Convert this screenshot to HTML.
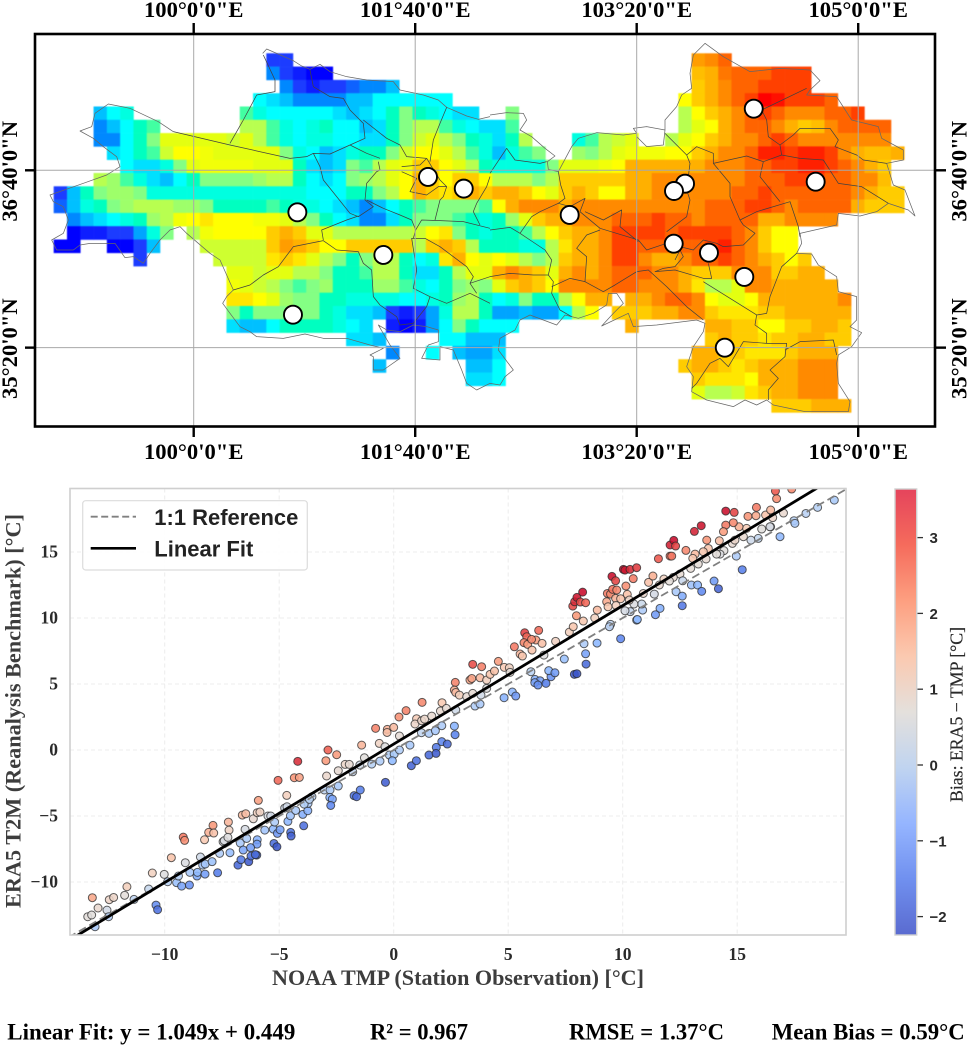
<!DOCTYPE html>
<html lang="en">
<head>
<meta charset="utf-8">
<title>ERA5 T2M vs NOAA TMP: spatial map and station validation</title>
<style>
html,body{margin:0;padding:0;background:#fff;}
svg{display:block;}
.serif{font-family:"Liberation Serif",serif;font-weight:bold;}
.sans{font-family:"Liberation Sans",sans-serif;font-weight:bold;}
#map-cells{filter:blur(0.4px);}
</style>
</head>
<body>
<svg id="fig" xmlns="http://www.w3.org/2000/svg" width="969" height="1046" viewBox="0 0 969 1046">
  <defs>
    <clipPath id="scatter-clip"><rect x="70" y="488.5" width="776" height="446.5"/></clipPath>
    <linearGradient id="cbar-grad" x1="0" y1="1" x2="0" y2="0"></linearGradient>
  </defs>
  <rect x="0" y="0" width="969" height="1046" fill="#fff"/>

  <g id="map-cells"></g>

  <g transform="translate(30,30) scale(0.33333)" fill="none" stroke="#404040" stroke-width="2.2" stroke-linejoin="round">
    <path stroke="#666" d="M698 70L710 57L790 92L815 108L840 118L870 103L900 125L950 140L1010 150L1090 155L1110 180L1180 195L1225 210L1250 232L1310 258L1345 268L1380 260M1380 1060L1340 1080L1310 1060L1295 1020L1270 960L1230 950L1230 990L1175 985L1195 945L1225 935L1225 900L1190 890L1150 885L1110 905L1070 900L1045 885L1080 945L1110 985L1060 1020L1030 1020L1030 980L1020 975L1060 955L1020 945L950 925L880 925L825 912L760 925L680 920L660 905L630 890L600 850L578 820L590 800L610 780L570 690L540 670L470 610L450 590L420 600L390 630L360 670L340 700L310 680L285 683L255 640L220 640L180 640L150 645L130 660L80 660L65 630L100 610L115 570L100 530L70 515L60 495L160 460L230 435L270 410L260 380L220 350L190 325L150 303L185 290L195 250L235 222L300 235L385 275L430 305"/>
    <path d="M430 305L600 345L780 385L830 380L850 370L900 372L960 345L1010 370L1050 385M600 340L640 270L680 195L735 185L735 150L700 75M850 370L870 410L880 450L920 500L960 550L985 560L1030 530L1005 510L1010 460L1040 425L1050 420L1045 395M840 120L850 170L900 200L940 205L960 240L1000 280L1005 325L960 345M1000 270L1070 325L1110 345L1130 380L1190 385M1250 232L1230 280L1210 330L1200 395M1010 510L1060 535L1110 555L1145 570L1157 600M880 630L875 600L950 570L985 558M610 780L660 765L700 735L745 710L790 650L880 632L920 660L985 665L1000 700L1025 720L1030 800L1050 825L1100 860L1110 885L1150 880L1190 830L1200 800L1150 775L1160 720L1145 625L1185 625L1230 650L1270 680L1310 710L1330 740L1320 760L1380 740M1157 600L1175 570L1230 572L1300 575L1380 595M1157 600L1150 625M1200 800L1250 820L1320 790L1380 820M1320 760L1340 790M1115 410L1170 405L1190 385L1205 410L1230 450L1250 470L1240 500L1230 510L1215 570M1115 425L1160 445L1140 485L1190 495L1225 470L1250 470M1340 520L1330 545L1350 585M1340 520L1370 470L1380 440"/>
  </g>
  <g transform="translate(490,30) scale(0.33333)" fill="none" stroke="#404040" stroke-width="2.2" stroke-linejoin="round">
    <path stroke="#666" d="M0 255L50 248L100 250L110 270L90 300L125 320L165 355L195 378L172 395L175 418L205 425L245 350L265 325L320 308L400 315L440 310L430 295L470 290L525 300L520 345L470 350L440 320M525 300L525 270L560 230L575 195L605 175L600 130L610 75L645 40L700 80L780 125L870 115L960 120L990 152L960 180L950 195L1040 200L1085 270L1165 290L1175 325L1240 360L1240 390L1190 400L1210 465L1245 480L1275 558L1255 540L1195 520L1160 545L1110 558L1045 550L1040 585L930 610L935 640L920 670L965 672L985 705L1040 740L1045 785L1100 800L1100 870L1080 890L1115 908L1085 950L1045 975L1040 1000L1045 1060L1080 1115L1075 1145L945 1145L850 1125L830 1110L800 1125L765 1110L730 1130L650 1110L605 1085L610 1040L590 1010L610 950L640 905L645 880L620 870L500 885L430 890L415 850L335 888L370 850L400 820L380 790L355 790L350 825L310 850L265 865L225 855L200 885L120 855L90 870L75 900L30 925L25 960L70 1020L45 1040L30 1065L0 1060"/>
    <path d="M0 430L50 355L75 390L150 400L170 395M0 600L60 592L90 610L120 630L165 660L185 690L175 735L190 755L185 790L210 840L245 860M0 740L60 730L130 735L175 735M185 770L240 745L285 755L340 785L375 765L440 725L475 720L530 770L590 830L640 870M285 755L290 680L260 655L290 615L330 600M90 610L125 560L150 545L205 520L240 530M205 425L212 465L225 505L205 520M240 530L285 505L270 545L330 595L445 630L470 660L530 640L610 660L640 630L680 640L700 650L760 645L795 610L760 585L750 570L800 545L900 515L925 590L930 620M445 635L390 590L395 540L340 570L285 545M530 605L590 560L600 510L590 480L600 400L590 375L620 350L670 370L670 400M590 375L525 310M670 400L720 460L720 500L750 570M670 400L770 378L820 395L875 375L870 345L910 315L930 295L1020 295L1045 330L1035 350L1100 375L1120 390L1190 400M820 395L810 440L870 515M875 375L930 385L1000 390L1045 460L1115 470L1195 520M830 270L815 240L950 175M830 270L835 320L870 345M555 690L570 660L580 680L555 710L520 715L495 725L555 720L640 745L665 745L655 700M640 755L800 855L830 850L840 800L875 710L920 670M800 855L795 885L830 910L830 940L760 935L715 1010L690 985L660 1000L620 1060L605 1075M830 940L890 940L885 980L840 1020L865 1045L835 1080L835 1110M885 960L930 935L1030 930L1040 975"/>
  </g>

  <g id="map-grid"></g>
  <g id="map-stations"></g>
  <rect x="35" y="34" width="900" height="392.5" fill="none" stroke="#000" stroke-width="2.6"/>
  <g id="map-ticks"></g>

  <g id="scatter-grid"></g>
  <g id="scatter-axes-labels"></g>
  <g clip-path="url(#scatter-clip)">
    <g id="scatter-points"></g>
    <line id="ref-line" stroke="#808080" stroke-width="1.8" stroke-dasharray="8 4"/>
    <line id="fit-line" stroke="#000" stroke-width="2.8"/>
  </g>
  <rect x="70" y="488.5" width="776" height="446.5" fill="none" stroke="#cfcfcf" stroke-width="1.6"/>

  <g>
    <rect x="82.7" y="500.7" width="224.6" height="69.3" rx="3" fill="#fff" fill-opacity="0.92" stroke="#dcdcdc" stroke-width="1.2"/>
    <line x1="90.7" y1="516.7" x2="136" y2="516.7" stroke="#808080" stroke-width="1.8" stroke-dasharray="7 3.5"/>
    <text x="154.3" y="525" class="sans" font-size="21.8" fill="#222" textLength="144" lengthAdjust="spacingAndGlyphs">1:1 Reference</text>
    <line x1="90.7" y1="548.3" x2="136" y2="548.3" stroke="#000" stroke-width="2.6"/>
    <text x="154.3" y="556.5" class="sans" font-size="21.8" fill="#222" textLength="99" lengthAdjust="spacingAndGlyphs">Linear Fit</text>
  </g>

  <text x="458" y="985" class="serif" font-size="22" fill="#3d3d3d" text-anchor="middle" textLength="372" lengthAdjust="spacingAndGlyphs">NOAA TMP (Station Observation) [°C]</text>
  <text transform="translate(20.7,711) rotate(-90)" class="serif" font-size="22" fill="#3d3d3d" text-anchor="middle" textLength="394" lengthAdjust="spacingAndGlyphs">ERA5 T2M (Reanalysis Benchmark) [°C]</text>

  <rect x="895" y="489" width="21.7" height="446" fill="url(#cbar-grad)" stroke="#cfcfcf" stroke-width="1.4"/>
  <g id="cbar-ticks"></g>
  <text transform="translate(962.7,714.5) rotate(-90)" font-family="Liberation Serif, serif" font-size="17.5" fill="#2a2a2a" stroke="#2a2a2a" stroke-width="0.2" text-anchor="middle" textLength="175" lengthAdjust="spacingAndGlyphs">Bias: ERA5 − TMP [°C]</text>

  <g>
    <text x="7.3" y="1039.3" class="serif" font-size="23" fill="#000" textLength="288" lengthAdjust="spacingAndGlyphs">Linear Fit: y = 1.049x + 0.449</text>
    <text x="370" y="1039.3" class="serif" font-size="23" fill="#000" textLength="98" lengthAdjust="spacingAndGlyphs">R² = 0.967</text>
    <text x="569" y="1039.3" class="serif" font-size="23" fill="#000" textLength="155" lengthAdjust="spacingAndGlyphs">RMSE = 1.37°C</text>
    <text x="771.7" y="1039.3" class="serif" font-size="23" fill="#000" textLength="193" lengthAdjust="spacingAndGlyphs">Mean Bias = 0.59°C</text>
  </g>
</svg>

<script>
/* ---------- map data ---------- */
const heatLevels = ["#0000ff","#1c3cff","#0088ff","#00c0ff","#00ffff","#00ffc0","#84ff84","#b8ff50","#e4ff10","#ffff00","#ffcc00","#ffb000","#ff8a00","#ff6400","#ff4000","#ff2000","#ff0000"];
const heatRows = [
"16|1 1/48|11.5 12 13",
"16|2 1 .5 0 0/48|10.5 11 12.5 13 13 13 14 14 14",
"17|2 1 .5 1 1 1.5 2 2 3/48|10 11 12 13 13 14 14 14 14",
"15|4 3.5 3 2 2 2 2 3 3 4 4 4 4 4 4/47|9 10 11 12 13 14 16 15.5 14 14 14 13",
"3|3 4 4.5/14|5.5 4.5 4 4 4 4 4 3.5 3 3.5 4 5 6 5 4.5 4 3.5 3.5/34|6/47|7 9 10 11 12 13 14 13 12 12 12 13 13 14",
"3|2 3 4 5 5.5/14|7 7 5.5 4.5 4 4.5 5 4 4 3 3.5 5 6 7 7 5.5 4.5 4 3.5 3.5 5.5/47|7 8 9 11 12 13 13 12 11 10 10.5 12 13 13 13 13",
"3|2 2 4 5 6 8 8 8 8 8 7.5 8 7 5.5 4.5 4 4.5 4.5 4 4 3.5 3.5 5 6 7.5 8 7 6 5 4.5 3.5 5 7/39|4.5 5.5 7 7.5 8/46|7 8 9 10 11 12 12 13 14 13 12 12 12 12 12 12 12",
"4|3.5 4 5 5.5 7.5 9 9 8.5 8 8 8 8 8 6 4.5 4 3 3.5 4.5 5 5 6 7.5 9 9 8 7 5.5 4.5 3 4.5 5.5 6/39|6.5 6 7 8 8.5 8.5 8.5 9 9 10 11 12 12 13 15 15 14 15 15 14 12 11 10.5 10.5 11",
"5|4 3.5 3.5 4.5 6 8 8.5 8.5 8.5 8.5 8 8 8 5 3.5 3 3.5 6 5.5 7 8 8.5 10 10 9 8 7 5 4.5 4.5 4.5 4.5 6 8 8 8 8.5 9 11 11 11 11 11 11 12 12 12 13 13 14 14 15 15 14 13 12 11 10",
"3|7 6.5 5.5 4.5 3.5 3 4 5 6 6 6 6 6.5 7 7 5 4 3.5 4 6 6.5 7 8 9 11 10 9 10 10 9 7 7 7 6 7 10 10 10 10 10 11 11 12 12 12 12 12 12 12 13 13 13 14 14 14 13 13 12 12 10.5",
"0|1 3 5 6 6.5 6.5 6 4.5 4.5 4.5 4.5 4.5 4.5 4.5 4.5 4.5 4.5 4.5 4.5 4 4 4 5 5 6 7 9 11 10 9.5 10 11 10 11 11 10 9 8 10 11 10 9 9 11 11 12 12 12 12 12 12 13 13 14 13 13 13 13 13 13 12 11 10 10",
"0|1.5 3 4.5 5 6 6.5 7 7 7 6.5 6.5 6 5 5 5 5 5.5 5 4.5 4.5 4 3.5 3 2 3 4 5 5.5 6 6 6 6 5.5 9 11 12 12 12 11 12 12 12 12 12 12 12 12 12 12 13 13 13 14 14 13 12 13 13 13 13 11 10 10 10",
"1|2 3 3.5 4 4.5 5 6.5 7 8.5 9 9.5 9 9 9 8.5 8.5 8 7 6 5 4 3.5 2 2 3.5 5 6 6 6 5.5 5 4.5 5 6.5 8 10 11 11 12 12 12 13 13 13 14 13 13 12 13 13 13 13 11 11 12 12 12 12",
"1|0 .5 .5 1 1 2.5 4.5 6/10|7 8.5 9 9 9 9 10 11 10 8 8 7 7 7 7 7 7 7.5 9 9.5 6 5 4.5 5 5 5.5 7 9 10 11 11 12 14 14 14 14 13 14 14 14 14 13 12 10 9 9",
"0|0 0/4|0 0 1 3/11|7.5 7.5 7.5 7.5 7.5 10 11.5 11 10 9 9 10 10 10 10 10 7 10 11 10 7 5 5 5 4.5 4.5 7 9.5 11 11 12 14 14 13 13 13 13 13 14 15 13 12 10 9 9",
"6|1/12|7.5 7.5 7.5 7.5 9.5 10 9.5 8 7 6 5 6 7 7 5 4 4.5 9.5 11 9 8 9 8 7 6 7 10 11 11 12 14 14 12 11 11 12 13 13 14 13 12 11 10 9 10",
"13|8 8 7.5 8 8 7 7 6 5 5 5.5 7 7 5 3.5 3.5 5 7 8 8 11 12 11 10 8 11 12 11 12 13 13 13 12 12 11 10 10 10 12 12 12 10 10 11 11",
"13|8.5 8 7.5 7 6 5.5 6 6.5 5 5 5 6.5 6.5 5.5 4.5 4 5 6 6.5 6 8 10 11 10 9 12 12 12 12 13 13 12 12 12 11 9.5 7 7 8 12 12 11 11 11 11 11",
"13|9.5 9.5 9 8 6.5 6 6 5 5 4.5 4.5 4.5 4.5 4 4 4.5 5 6.5 7 5 4 4.5 6 5 5 7 9 11 11/43|11 11 12 13 13 12 9 8 8 9 11 11 11 11 11 11 12",
"13|6 5 6 6 6 6 6 5 4.5 3.5 3.5 3 1 .5 1 2.5 4.5 7 7 5 2.5 2.5 3 2.5 2.5 4 7 9/42|10 10 10 11 11 12 12 10 9.5 9.5 9.5 10 10 11 11 11 11 11",
"13|3.5 3 3 4 5 5 5 5 4.5 4 3.5/25|.5 0 .5 2.5 4 6 5 4 4 4/43|11/49|11 11 10 10 9 9 10 10 11 11 10",
"22|3.5 3.5 3/29|4 4 3 3 3/49|10 11 10 10 9.5 10 10 11 11 10 10",
"25|2/28|4/30|3 2.5 2.5 3.5/48|11 11 10 10 9.5 9.5 9.5 10 11 11 11",
"24|3/31|3 3 4/47|10 11 11 10 9.5 10 11 11 11 12 12 12",
"31|3.5 3.5 4/48|10 9.5 9.5 9.5 9 11 11 11 12 12 12",
"48|8 7 7 7.5 9.5 10 11 11 12 12 12",
"54|10 10 10 11 11 11"
];
const gridLonStart = 98.9465;
const gridLatStart = 37.5465;
const gridStep = 0.1;
const stationLon = [100.78,100.747,101.427,101.763,102.032,102.829,103.697,103.614,103.612,103.877,104.143,103.996,104.214,104.68];
const stationLat = [36.351,35.581,36.030,36.617,36.529,36.331,36.566,36.511,36.115,36.047,35.865,35.333,37.130,36.581];
const lonTicks = [100,101.6667,103.3333,105];
const lonTickLabels = ["100°0'0\"E","101°40'0\"E","103°20'0\"E","105°0'0\"E"];
const latTicks = [36.6667,35.3333];
const latTickLabels = ["36°40'0\"N","35°20'0\"N"];

/* ---------- scatter data ---------- */
const noaaTmp = [-13.04,-13.16,-13.36,-13.19,-12.91,-12.52,-12.45,-12.42,-12.23,-11.75,-11.65,-11.34,-10.70,-10.38,-10.31,-10.54,-10.02,-9.87,-9.71,-9.48,-9.40,-9.26,-8.92,-9.10,-8.90,-8.59,-8.57,-8.24,-8.34,-8.44,-8.23,-7.93,-7.69,-7.60,-7.15,-8.26,-9.19,-9.13,-8.08,-7.89,-7.86,-7.22,-7.19,-7.45,-7.40,-7.24,-6.70,-6.42,-6.49,-6.57,-5.96,-5.97,-6.25,-6.80,-6.67,-6.33,-6.23,-5.98,-6.04,-5.63,-5.26,-5.20,-5.08,-4.96,-5.23,-5.10,-4.50,-4.48,-4.62,-4.51,-4.28,-3.97,-3.93,-3.75,-3.74,-3.91,-3.57,-3.68,-5.49,-5.37,-6.13,-6.61,-6.46,-5.96,-5.84,-5.91,-5.05,-4.67,-4.34,-4.12,-4.19,-4.76,-4.66,-2.93,-2.96,-2.87,-2.49,-3.03,-2.78,-2.42,-2.79,-2.68,-2.75,-1.73,-1.62,-1.46,-2.42,-2.12,-1.94,-1.79,-1.48,-1.28,-1.40,-0.96,-0.63,-0.79,-0.28,-0.29,0.00,-0.60,-0.38,-0.19,0.02,0.25,-0.06,-0.36,0.25,0.23,0.54,0.71,0.77,0.99,1.24,1.00,0.93,1.22,1.35,1.21,1.54,1.54,1.66,1.82,1.86,1.85,2.10,2.11,2.10,2.04,2.34,2.30,2.65,2.68,2.69,2.65,2.71,2.71,
2.87,3.45,3.84,3.19,3.45,3.33,3.41,3.77,4.06,4.21,4.40,4.57,4.83,5.05,5.08,4.06,3.81,3.55,3.77,4.82,5.18,5.33,5.27,5.52,5.62,5.72,5.81,5.69,5.85,6.04,6.21,6.02,6.33,6.48,7.07,6.56,5.99,6.17,6.39,6.16,6.30,6.65,6.87,6.77,7.04,7.45,7.89,8.00,8.40,8.38,8.31,8.88,7.67,7.84,7.98,8.28,8.78,8.89,7.82,7.90,8.00,8.15,8.25,8.38,9.30,9.36,9.33,9.47,9.56,9.74,9.69,9.91,10.14,10.20,9.71,9.53,9.69,10.46,10.03,10.10,10.32,10.61,11.13,11.32,11.56,12.07,12.23,12.31,12.07,12.14,12.76,13.13,13.43,14.50,14.87,15.47,15.84,15.82,16.24,16.46,16.72,16.67,17.38,17.02,16.55,16.46,16.07,15.92,15.60,15.27,15.41,15.08,14.83,14.50,14.40,14.22,13.67,13.74,13.52,13.16,13.06,13.64,13.30,12.97,12.50,12.21,11.80,11.60,12.04,12.62,13.00,13.27,13.45,13.99,14.18,15.22,14.96,14.42,14.25,14.10,14.79,14.90,16.87,16.43,17.48,17.52,18.00,18.51,19.24,12.33,12.60,12.60,11.63,11.43,10.61,10.64,10.87,10.83,10.49,10.33,10.10,9.47,9.42,9.91,11.38,10.90,10.29];
const era5T2m = [-13.39,-11.19,-12.63,-12.50,-11.97,-12.13,-12.63,-11.34,-11.17,-11.01,-10.36,-11.32,-10.53,-11.75,-12.10,-9.32,-9.42,-9.98,-8.16,-10.05,-9.55,-10.31,-10.23,-8.54,-9.27,-9.55,-9.27,-9.40,-8.72,-8.11,-8.64,-8.46,-9.30,-7.83,-7.78,-6.80,-6.60,-6.85,-6.24,-5.71,-6.29,-5.46,-6.07,-6.95,-6.87,-6.62,-7.05,-6.70,-6.01,-7.58,-6.80,-7.13,-7.40,-8.72,-8.31,-8.46,-8.03,-7.96,-7.93,-6.07,-5.99,-5.46,-6.32,-6.04,-7.08,-7.33,-6.24,-6.52,-5.41,-4.98,-4.58,-4.88,-5.74,-4.60,-4.05,-4.10,-3.54,-3.74,-5.00,-5.00,-5.21,-4.93,-4.83,-4.75,-4.70,-3.82,-2.30,-3.44,-2.10,-2.08,-0.86,-4.40,-4.30,-1.97,-0.81,0.00,-0.36,-3.03,-3.03,-2.73,-3.59,-3.72,-4.20,-3.46,-3.54,-3.03,-1.57,-1.09,-1.09,-1.65,-1.14,-0.59,0.37,-1.07,0.50,1.64,1.56,1.33,1.71,-0.84,0.25,-0.38,-0.31,0.00,-0.81,-2.45,1.06,2.50,2.98,0.37,-1.19,-0.81,3.61,2.37,1.97,2.22,2.34,1.31,-0.38,1.26,2.57,1.46,0.20,-0.26,0.63,3.58,1.84,2.95,0.45,3.15,1.81,1.16,5.12,4.54,4.36,3.03,
4.16,6.49,6.31,4.04,4.29,5.30,5.42,5.47,5.30,5.73,5.98,6.71,6.26,6.23,5.88,4.67,4.16,3.33,3.48,3.96,4.39,4.09,7.82,7.27,7.12,8.88,8.58,8.13,8.00,7.57,8.33,8.38,9.06,8.08,8.23,7.19,5.93,5.35,5.25,5.10,4.92,5.05,5.55,6.01,5.85,6.89,5.73,5.78,6.51,7.29,8.05,8.10,8.93,9.34,10.17,9.77,10.00,10.60,10.90,11.23,11.56,11.21,11.96,11.16,11.23,10.85,11.86,11.81,12.17,12.12,11.49,11.46,12.42,11.79,10.95,13.15,12.82,12.98,13.68,13.63,13.68,13.81,12.70,13.18,14.49,15.53,15.88,15.45,14.69,14.69,15.12,16.56,16.99,18.10,18.00,17.70,18.38,17.75,17.80,18.18,19.04,19.62,19.77,17.95,17.60,16.91,16.74,16.03,15.90,16.16,16.79,16.91,17.22,17.04,16.54,15.85,15.90,15.27,15.02,14.84,14.52,14.47,14.09,13.76,13.33,13.08,12.95,12.50,12.80,12.82,12.50,12.50,12.02,12.80,12.22,13.66,14.69,15.10,14.84,14.84,15.65,15.90,16.16,16.91,17.37,17.17,17.92,18.38,18.93,11.99,11.66,10.93,10.73,10.25,9.84,9.89,10.60,11.06,11.06,10.48,10.55,9.52,9.34,8.43,11.81,11.86,11.36];
const xTicks = [-10,-5,0,5,10,15];
const yTicks = [-10,-5,0,5,10,15];
const xTickLabels = ["−10","−5","0","5","10","15"];
const yTickLabels = ["−10","−5","0","5","10","15"];
const fitSlope = [1.049];
const fitIntercept = [0.449];
const cbarTicks = [-2,-1,0,1,2,3];
const cbarTickLabels = ["−2","−1","0","1","2","3"];
const biasRange = [-2.24,3.65];
const coolwarmStops = ["#5a6bd0","#7090ef","#95b5ff","#c0d4f0","#e4e0dc","#fbc9b0","#fd9f80","#f56b5c","#e5445c"];
const dotStops = ["#3b55c8","#5c85ee","#8db8ff","#bcd4f4","#e2dedb","#f8cbb4","#f8997a","#ee5a4e","#c70a2a"];

/* ---------- helpers ---------- */
const NS = "http://www.w3.org/2000/svg";
const lonX = lon => 193.7 + 132.9 * (lon - 100);
const latY = lat => 170.3 - 133 * (lat - 36.6667);
const sx = v => 393.7 + 22.9 * v;
const sy = v => 750 - 13.2 * v;
const by = v => 765 - 75.8 * v;
function hex(c){return [parseInt(c.slice(1,3),16),parseInt(c.slice(3,5),16),parseInt(c.slice(5,7),16)];}
function ramp(list,t){
  t=Math.max(0,Math.min(1,t))*(list.length-1);
  const i=Math.min(Math.floor(t),list.length-2),f=t-i,a=hex(list[i]),b=hex(list[i+1]);
  return "rgb("+a.map((v,k)=>Math.round(v+(b[k]-v)*f)).join(",")+")";
}
function make(tag,attrs,parent){
  const el=document.createElementNS(NS,tag);
  for(const k in attrs) el.setAttribute(k,attrs[k]);
  parent.appendChild(el);
  return el;
}

/* ---------- heatmap ---------- */
const cellsG=document.getElementById("map-cells");
heatRows.forEach((row,r)=>{
  row.split("/").forEach(seg=>{
    const parts=seg.split("|"),start=+parts[0];
    parts[1].split(" ").forEach((tok,i)=>{
      const col=start+i,lon=gridLonStart+col*gridStep,lat=gridLatStart-r*gridStep;
      const el=make("rect",{x:lonX(lon).toFixed(2),y:latY(lat).toFixed(2),width:13.6,height:13.6,fill:ramp(heatLevels,(+tok)/16)},cellsG);
      
      
    });
  });
});

/* ---------- graticule, ticks, labels ---------- */
const gridG=document.getElementById("map-grid"),tickG=document.getElementById("map-ticks");
lonTicks.forEach((lon,i)=>{
  const x=lonX(lon);
  const g=make("line",{x1:x,x2:x,y1:34,y2:426.5,stroke:"#a8a8a8","stroke-width":1},gridG);
  
  
  const t1=make("line",{x1:x,x2:x,y1:23,y2:34,stroke:"#000","stroke-width":2.4},tickG);
  
  
  const t2=make("line",{x1:x,x2:x,y1:426.5,y2:437,stroke:"#000","stroke-width":2.4},tickG);
  
  
  [17,459].forEach(y=>{
    const l=make("text",{x:x,y:y,"text-anchor":"middle","font-size":22.6,class:"serif",fill:"#000"},tickG);
    l.textContent=lonTickLabels[i];
    
    
  });
});
latTicks.forEach((lat,i)=>{
  const y=latY(lat);
  const g=make("line",{x1:35,x2:935,y1:y,y2:y,stroke:"#a8a8a8","stroke-width":1},gridG);
  
  
  const t1=make("line",{x1:25,x2:35,y1:y,y2:y,stroke:"#000","stroke-width":2.4},tickG);
  
  
  const t2=make("line",{x1:935,x2:946,y1:y,y2:y,stroke:"#000","stroke-width":2.4},tickG);
  
  
  [17,966.7].forEach(x=>{
    const l=make("text",{transform:"translate("+x+","+(y+1)+") rotate(-90)","text-anchor":"middle","font-size":22.6,class:"serif",fill:"#000"},tickG);
    l.textContent=latTickLabels[i];
    
    
  });
});

/* ---------- stations ---------- */
const stG=document.getElementById("map-stations");
stationLon.forEach((lon,i)=>{
  const c=make("circle",{cx:lonX(lon),cy:latY(stationLat[i]),r:9,fill:"#fff",stroke:"#000","stroke-width":1.9},stG);
  
  
});

/* ---------- scatter ---------- */
const sgG=document.getElementById("scatter-grid"),slG=document.getElementById("scatter-axes-labels");
xTicks.forEach((v,i)=>{
  const g=make("line",{x1:sx(v),x2:sx(v),y1:488.5,y2:935,stroke:"#ececec","stroke-width":1,"stroke-dasharray":"4 3"},sgG);
  
  
  const l=make("text",{x:sx(v),y:960,"text-anchor":"middle","font-size":17.5,class:"serif",fill:"#2a2a2a"},slG);
  l.textContent=xTickLabels[i];
  
  
});
yTicks.forEach((v,i)=>{
  const g=make("line",{x1:70,x2:846,y1:sy(v),y2:sy(v),stroke:"#ececec","stroke-width":1,"stroke-dasharray":"4 3"},sgG);
  
  
  const l=make("text",{x:58,y:sy(v)+5.5,"text-anchor":"end","font-size":17.5,class:"serif",fill:"#2a2a2a"},slG);
  l.textContent=yTickLabels[i];
  
  
});
const ptG=document.getElementById("scatter-points");
noaaTmp.forEach((x,i)=>{
  const y=era5T2m[i],bias=y-x,t=(bias-biasRange[0])/(biasRange[1]-biasRange[0]);
  const c=make("circle",{cx:sx(x).toFixed(2),cy:sy(y).toFixed(2),r:4,fill:ramp(dotStops,t),"fill-opacity":0.88,stroke:"#2a2a2a","stroke-opacity":0.75,"stroke-width":1},ptG);
  
  
});
const refL=document.getElementById("ref-line");
refL.setAttribute("x1",sx(-14.2));refL.setAttribute("y1",sy(-14.2));
refL.setAttribute("x2",sx(19.9));refL.setAttribute("y2",sy(19.9));
const fitL=document.getElementById("fit-line");
fitL.setAttribute("x1",sx(-14.2));fitL.setAttribute("y1",sy(fitSlope[0]*-14.2+fitIntercept[0]));
fitL.setAttribute("x2",sx(19.9));fitL.setAttribute("y2",sy(fitSlope[0]*19.9+fitIntercept[0]));

/* ---------- colorbar ---------- */
const grad=document.getElementById("cbar-grad");
coolwarmStops.forEach((c,i)=>{
  const s=make("stop",{offset:i/(coolwarmStops.length-1),"stop-color":c},grad);
  
  
});
const cbG=document.getElementById("cbar-ticks");
cbarTicks.forEach((v,i)=>{
  const t=make("line",{x1:917.5,x2:923,y1:by(v),y2:by(v),stroke:"#333","stroke-width":1.3},cbG);
  
  
  const l=make("text",{x:929.5,y:by(v)+5.5,"font-size":15,class:"sans",fill:"#2a2a2a"},cbG);
  l.textContent=cbarTickLabels[i];
  
  
});
</script>
</body>
</html>
